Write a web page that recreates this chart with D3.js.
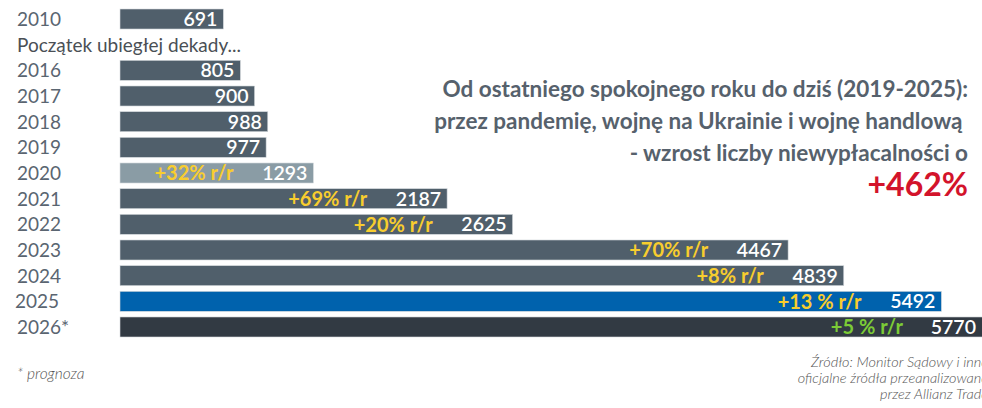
<!DOCTYPE html>
<html>
<head>
<meta charset="utf-8">
<script src="https://cdn.jsdelivr.net/npm/d3@7"></script>
<style>
  html, body { margin: 0; padding: 0; background: #fff; }
  svg { display: block; font-family: Lato, "Open Sans", sans-serif; }
</style>
</head>
<body>
<svg id="graph" width="982" height="408"></svg>
<script>
// categories (the empty slot holds the "Początek ubiegłej dekady..." note)
const years = ['2010', 'gap', '2016', '2017', '2018', '2019', '2020', '2021', '2022', '2023', '2024', '2025', '2026*'];
const values = [691, null, 805, 900, 988, 977, 1293, 2187, 2625, 4467, 4839, 5492, 5770];
const changes = [null, null, null, null, null, null, '+32% r/r', '+69% r/r', '+20% r/r', '+70% r/r', '+8% r/r', '+13 % r/r', '+5 % r/r'];
const gapNote = 'Początek ubiegłej dekady...';
const noteLines = [
  'Od ostatniego spokojnego roku do dziś (2019-2025):',
  'przez pandemię, wojnę na Ukrainie i wojnę handlową ',
  '- wzrost liczby niewypłacalności o'
];
const noteValue = '+462%';
const footnote = '* prognoza';
const sourceLines = ['Źródło: Monitor Sądowy i inne', 'oficjalne źródła przeanalizowane', 'przez Allianz Trade'];

const barColor = y => {
  if (y === '2020') return '#8a9ca5';
  if (y === '2025') return '#0062ad';
  if (y === '2026*') return '#323a43';
  return '#505f6b';
};

/**
 * Draw chart
 */
const drawChart = () => {
  const svg = d3.select('#graph');

  const x = d3.scaleLinear().domain([0, 5770]).range([120, 983]);
  const y = d3.scaleBand().domain(years).range([9, 337]).paddingInner(0.22).paddingOuter(0);

  const data = years.map((d, i) => ({ year: d, value: values[i], change: changes[i] }));
  const rows = data.filter(d => d.value !== null);

  // Bars
  svg.append('g')
    .selectAll('rect')
    .data(rows)
    .join('rect')
    .attr('x', x(0))
    .attr('y', d => y(d.year))
    .attr('width', d => x(d.value) - x(0))
    .attr('height', y.bandwidth())
    .attr('fill', d => barColor(d.year))
    .attr('stroke', '#d6dbde')
    .attr('stroke-width', 0.6);

  // Year labels
  svg.append('g')
    .selectAll('text')
    .data(rows)
    .join('text')
    .attr('x', d => d.year === '2025' ? 15 : 17)
    .attr('y', d => y(d.year) + y.bandwidth() / 2)
    .attr('dy', '0.36em')
    .style('font-size', '19px')
    .style('fill', '#5a6571')
    .text(d => d.year);

  // Gap note
  svg.append('text')
    .attr('x', 17)
    .attr('y', y('gap') + y.bandwidth() / 2)
    .attr('dy', '0.36em')
    .style('font-size', '19px')
    .style('fill', '#4a4f55')
    .text(gapNote);

  // Value labels
  svg.append('g')
    .selectAll('text')
    .data(rows)
    .join('text')
    .attr('x', d => Math.min(x(d.value), 982) - 6)
    .attr('y', d => y(d.year) + y.bandwidth() / 2)
    .attr('dy', '0.36em')
    .attr('text-anchor', 'end')
    .style('font-size', '19.5px')
    .style('font-weight', 600)
    .style('fill', '#fff')
    .text(d => d.value);

  // Year-on-year change labels
  svg.append('g')
    .selectAll('text')
    .data(rows.filter(d => d.change))
    .join('text')
    .attr('x', d => x(d.value) - 80)
    .attr('y', d => y(d.year) + y.bandwidth() / 2)
    .attr('dy', '0.36em')
    .attr('text-anchor', 'end')
    .style('font-size', '20px')
    .style('font-weight', 700)
    .style('fill', d => d.year === '2026*' ? '#7ccb36' : '#f8cd2e')
    .text(d => d.change);

  // Annotation
  const note = svg.append('text')
    .attr('text-anchor', 'end')
    .style('font-size', '22.5px')
    .style('font-weight', 700)
    .style('fill', '#56616c');
  noteLines.forEach((t, i) => {
    note.append('tspan')
      .attr('x', 968)
      .attr('y', 97 + i * 32)
      .attr('xml:space', 'preserve')
      .text(t);
  });
  svg.append('text')
    .attr('x', 968)
    .attr('y', 196)
    .attr('text-anchor', 'end')
    .style('font-size', '32px')
    .style('font-weight', 700)
    .style('fill', '#d3132b')
    .text(noteValue);

  // Footnote
  svg.append('text')
    .attr('x', 17)
    .attr('y', 379)
    .style('font-size', '15.5px')
    .style('font-style', 'italic')
    .style('font-weight', 300)
    .style('fill', '#555')
    .text(footnote);

  // Source (runs past the right edge, as in the original)
  const src = svg.append('text')
    .attr('text-anchor', 'end')
    .style('font-size', '14.5px')
    .style('font-style', 'italic')
    .style('font-weight', 300)
    .style('fill', '#555');
  sourceLines.forEach((t, i) => {
    src.append('tspan')
      .attr('x', 988)
      .attr('y', 367 + i * 16)
      .text(t);
  });
};

drawChart();
</script>
</body>
</html>
